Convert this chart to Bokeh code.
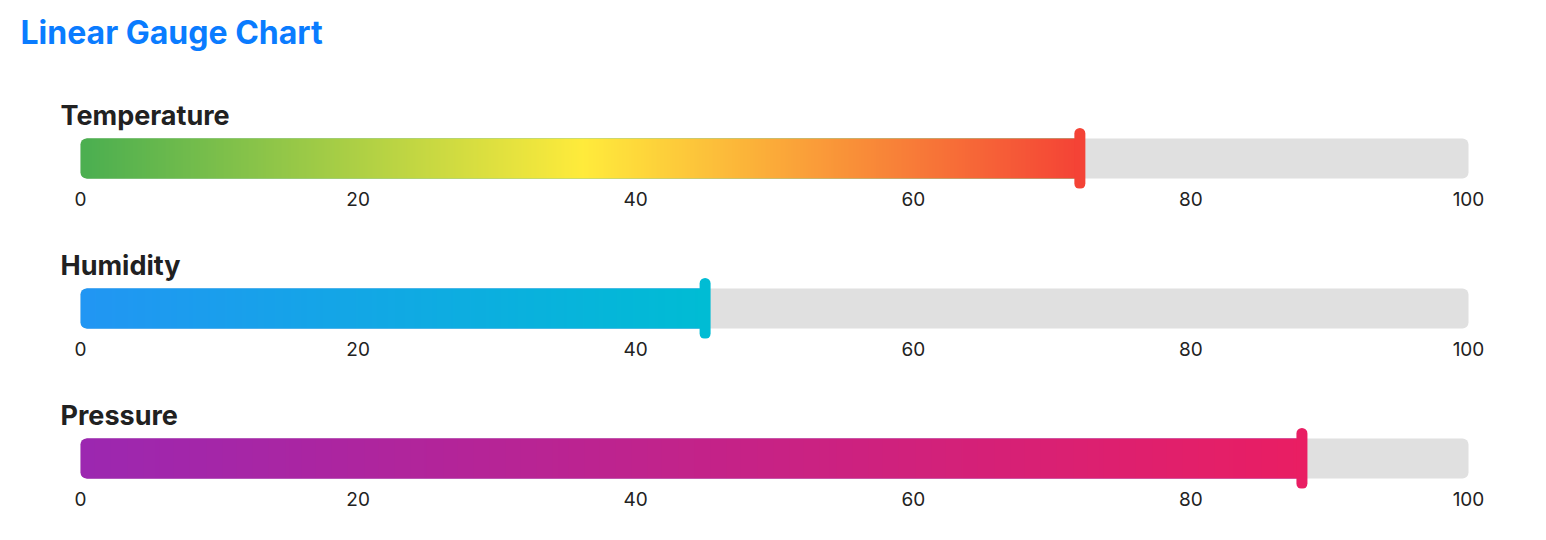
import numpy as np
from bokeh.plotting import figure
from bokeh.layouts import column
from bokeh.models import Range1d, FixedTicker
from bokeh.core.properties import value
from bokeh.embed import file_html
from bokeh.resources import INLINE

# ---- data ----
title_text = "Linear Gauge Chart"
gauge_names = ["Temperature", "Humidity", "Pressure"]
gauge_values = [72, 45, 88]
gauge_min = 0
gauge_max = 100
tick_values = [0, 20, 40, 60, 80, 100]
gradient_stops = [
    ["#4caf50", "#ffeb3b", "#f44336"],
    ["#2196f3", "#00bcd4"],
    ["#9c27b0", "#e91e63"],
]

# ---- layout constants ----
W = 1540
FONT = "Inter"
BAR_LEFT_PX = 80      # px offset in figure of gauge_min
BAR_WIDTH_PX = 1388   # px length of the scale
UNITS_PER_PX = (gauge_max - gauge_min) / BAR_WIDTH_PX
XSTART = gauge_min - BAR_LEFT_PX * UNITS_PER_PX
XEND = XSTART + W * UNITS_PER_PX
TITLE_H = 78
FRAME_H = 110
BOTTOM = 40
BAR_TOP, BAR_BOT = 60, 100
RADIUS = 6


def hex_rgb(h):
    h = h.lstrip("#")
    return [int(h[i:i + 2], 16) for i in (0, 2, 4)]


def gradient_image(stops, n=600):
    cols = np.array([hex_rgb(c) for c in stops], dtype=float)
    pos = np.linspace(0, 1, len(stops))
    t = np.linspace(0, 1, n)
    rgb = np.stack([np.interp(t, pos, cols[:, k]) for k in range(3)], axis=1)
    img = np.zeros((2, n), dtype=np.uint32)
    view = img.view(dtype=np.uint8).reshape((2, n, 4))
    for r in range(2):
        view[r, :, 0:3] = np.round(rgb).astype(np.uint8)
        view[r, :, 3] = 255
    return img


# ---- title ----
tf = figure(width=W, height=TITLE_H, output_backend="svg", toolbar_location=None,
            x_range=Range1d(0, W), y_range=Range1d(TITLE_H, 0),
            x_axis_type=None, y_axis_type=None, min_border=0)
tf.outline_line_color = None
tf.grid.visible = False
tf.text(x=[20], y=[32], text=[title_text], text_font=value(FONT),
        text_font_style="bold", text_font_size="32px", text_color="#0a7cff",
        text_baseline="alphabetic", text_align="left")

figs = [tf]
for name, val, stops in zip(gauge_names, gauge_values, gradient_stops):
    p = figure(width=W, height=FRAME_H + BOTTOM, output_backend="svg",
               toolbar_location=None,
               x_range=Range1d(XSTART, XEND), y_range=Range1d(FRAME_H, 0),
               y_axis_type=None, min_border_left=0, min_border_right=0,
               min_border_top=0, min_border_bottom=BOTTOM)
    p.outline_line_color = None
    p.grid.visible = False
    ax = p.xaxis[0]
    ax.ticker = FixedTicker(ticks=tick_values)
    ax.axis_line_color = None
    ax.major_tick_line_color = None
    ax.minor_tick_line_color = None
    ax.major_label_text_font = FONT
    ax.major_label_text_font_size = "19px"
    ax.major_label_text_color = "#222222"
    ax.major_label_standoff = -3

    # label
    p.text(x=[gauge_min - 20 * UNITS_PER_PX], y=[37], text=[name],
           text_font=value(FONT), text_font_style="bold",
           text_font_size="27px", text_color="#212121",
           text_baseline="alphabetic", text_align="left")
    # track
    p.quad(left=[gauge_min], right=[gauge_max], top=[BAR_TOP], bottom=[BAR_BOT],
           fill_color="#e0e0e0", line_color=None, border_radius=RADIUS)
    # fill start (rounded left end)
    p.quad(left=[gauge_min], right=[val], top=[BAR_TOP], bottom=[BAR_BOT],
           fill_color=stops[0], line_color=None, border_radius=RADIUS)
    # gradient body
    x0 = gauge_min + RADIUS * UNITS_PER_PX
    p.image_rgba(image=[gradient_image(stops)], x=[x0], y=[BAR_TOP],
                 dw=[val - x0], dh=[BAR_BOT - BAR_TOP])
    # marker
    p.segment(x0=[val], y0=[BAR_TOP - 5], x1=[val], y1=[BAR_BOT + 5],
              line_width=11, line_cap="round", line_color=stops[-1])
    figs.append(p)

layout = column(*figs)
open("out.html", "w").write(file_html(layout, INLINE))
